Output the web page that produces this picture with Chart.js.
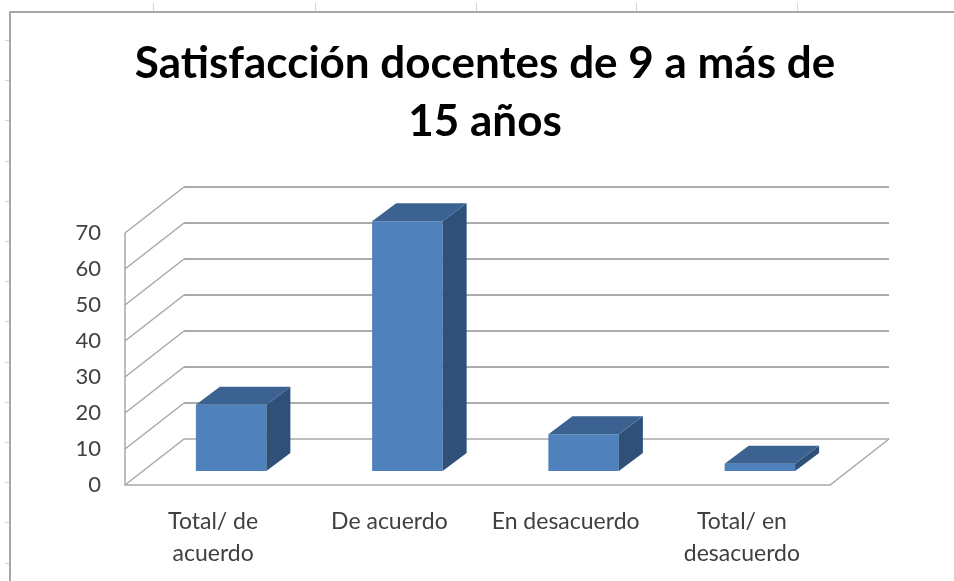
<!DOCTYPE html>
<html>
<head>
<meta charset="utf-8">
<script src="https://cdn.jsdelivr.net/npm/chart.js@4/dist/chart.umd.min.js"></script>
<style>
  html, body { margin: 0; padding: 0; background: #fff; }
  #wrap { width: 954px; height: 581px; }
</style>
</head>
<body>
<div id="wrap"><canvas id="satChart" width="954" height="581"></canvas></div>
<script>
// Chart data
const categories = [['Total/ de', 'acuerdo'], 'De acuerdo', 'En desacuerdo', ['Total/ en', 'desacuerdo']];
const percentValues = [18.4, 69.4, 10.2, 2.0];
const yTicks = [0, 10, 20, 30, 40, 50, 60, 70];
const titleLines = ['Satisfacción docentes de 9 a más de', '15 años'];

// 3D look: full depth of the walls and where the bars sit inside it
const depth = { dx: 59, dy: -46 };
const barShift = { dx: 18, dy: -14 };
const barDepth = { dx: 24, dy: -18 };

// Frame, title and back walls, drawn behind the bars
const wallsPlugin = {
    id: 'walls',
    beforeDatasetsDraw(chart) {
        const ctx = chart.ctx;
        const area = chart.chartArea;
        const yScale = chart.scales.y;

        ctx.save();
        // sheet marks and chart frame
        ctx.strokeStyle = '#d4d4d4';
        ctx.lineWidth = 1;
        [153, 315, 476, 636, 797].forEach(x => {
            ctx.beginPath(); ctx.moveTo(x + 0.5, 3); ctx.lineTo(x + 0.5, 11); ctx.stroke();
        });
        for (let y = 40; y < 581; y += 40.2) {
            ctx.beginPath(); ctx.moveTo(5, Math.round(y) + 0.5); ctx.lineTo(9, Math.round(y) + 0.5); ctx.stroke();
        }
        ctx.strokeStyle = '#a6a6a6';
        ctx.lineWidth = 2;
        ctx.beginPath();
        ctx.moveTo(10, 581); ctx.lineTo(10, 12); ctx.lineTo(954, 12);
        ctx.stroke();

        // title
        ctx.fillStyle = '#000';
        ctx.font = 'bold 44px Lato';
        ctx.textAlign = 'center';
        ctx.textBaseline = 'alphabetic';
        ctx.fillText(titleLines[0], 485, 78);
        ctx.fillText(titleLines[1], 485, 136);

        // side wall diagonals and back wall gridlines
        yTicks.forEach(v => {
            const y = yScale.getPixelForValue(v);
            ctx.strokeStyle = '#a8a8a8';
            ctx.lineWidth = 1.5;
            ctx.beginPath();
            ctx.moveTo(area.left, y);
            ctx.lineTo(area.left + depth.dx, y + depth.dy);
            ctx.stroke();
            ctx.strokeStyle = v === 0 ? '#a8a8a8' : '#8f8f8f';
            ctx.beginPath();
            ctx.moveTo(area.left + depth.dx, y + depth.dy);
            ctx.lineTo(area.right + depth.dx, y + depth.dy);
            ctx.stroke();
        });

        // left wall front edge and floor
        const y0 = yScale.getPixelForValue(0);
        const yTop = yScale.getPixelForValue(70);
        ctx.strokeStyle = '#a8a8a8';
        ctx.beginPath();
        ctx.moveTo(area.left, yTop);
        ctx.lineTo(area.left, y0);
        ctx.lineTo(area.right, y0);
        ctx.lineTo(area.right + depth.dx, y0 + depth.dy);
        ctx.stroke();
        ctx.restore();

        // the bars sit part way into the depth
        ctx.save();
        ctx.translate(barShift.dx, barShift.dy);
    },
    afterDatasetsDraw(chart) {
        const ctx = chart.ctx;
        const meta = chart.getDatasetMeta(0);
        meta.data.forEach(bar => {
            const left = bar.x - bar.width / 2;
            const right = bar.x + bar.width / 2;
            const top = bar.y;
            const base = bar.base;
            // side face
            ctx.fillStyle = '#2f5179';
            ctx.beginPath();
            ctx.moveTo(right, top);
            ctx.lineTo(right + barDepth.dx, top + barDepth.dy);
            ctx.lineTo(right + barDepth.dx, base + barDepth.dy);
            ctx.lineTo(right, base);
            ctx.closePath();
            ctx.fill();
            // top face
            ctx.fillStyle = '#3b6290';
            ctx.beginPath();
            ctx.moveTo(left, top);
            ctx.lineTo(left + barDepth.dx, top + barDepth.dy);
            ctx.lineTo(right + barDepth.dx, top + barDepth.dy);
            ctx.lineTo(right, top);
            ctx.closePath();
            ctx.fill();
        });
        ctx.restore();
    }
};

document.addEventListener('DOMContentLoaded', function() {
    const ctx = document.getElementById('satChart').getContext('2d');
    new Chart(ctx, {
        type: 'bar',
        data: {
            labels: categories,
            datasets: [{
                data: percentValues,
                backgroundColor: '#4f81bd',
                borderWidth: 0,
                categoryPercentage: 1,
                barPercentage: 0.4,
                clip: false
            }]
        },
        options: {
            responsive: false,
            animation: false,
            layout: { padding: { top: 233, right: 124, bottom: 0, left: 0 } },
            plugins: {
                legend: { display: false },
                tooltip: { enabled: false },
                title: { display: false }
            },
            scales: {
                x: {
                    grid: { display: false, drawTicks: false },
                    border: { display: false },
                    ticks: {
                        color: '#404040',
                        font: { family: 'Lato', size: 23, lineHeight: 1.4 },
                        padding: 20,
                        maxRotation: 0,
                        autoSkip: false
                    },
                    afterFit: s => { s.height = 96; }
                },
                y: {
                    min: 0,
                    max: 70,
                    grid: { display: false, drawTicks: false },
                    border: { display: false },
                    ticks: {
                        stepSize: 10,
                        color: '#404040',
                        font: { family: 'Lato', size: 22 },
                        padding: 24
                    },
                    afterFit: s => { s.width = 125; }
                }
            }
        },
        plugins: [wallsPlugin]
    });
});
</script>
</body>
</html>
